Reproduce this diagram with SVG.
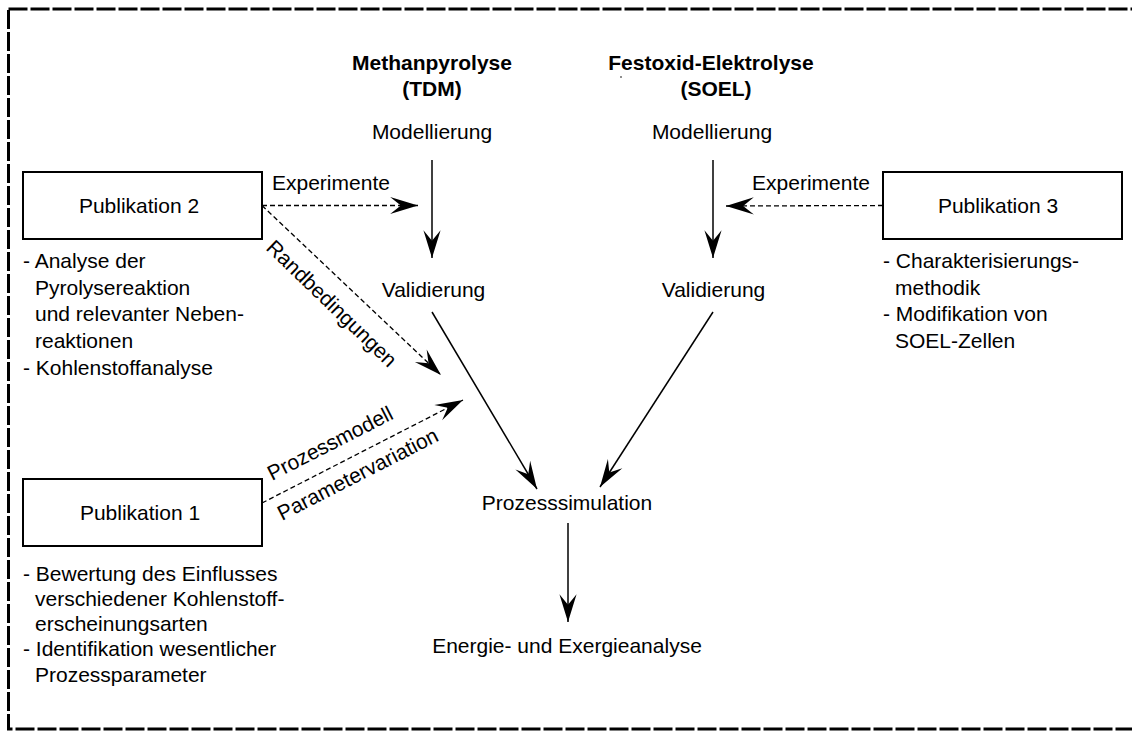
<svg xmlns="http://www.w3.org/2000/svg" width="1132" height="731" viewBox="0 0 1132 731">
<style>
text{font-family:"Liberation Sans",Arial,sans-serif;fill:#000}
.lbl{font-size:21px}
.bul{font-size:21px}
.hd{font-size:21px;font-weight:bold}
.box{fill:#fff;stroke:#000;stroke-width:2}
.solid{stroke:#000;stroke-width:1.5;fill:none}
.dash{stroke:#000;stroke-width:1.3;fill:none;stroke-dasharray:5 3}
</style>
<defs>
<marker id="ah" markerUnits="userSpaceOnUse" markerWidth="30" markerHeight="20" viewBox="-27 -9 28 18" refX="0" refY="0" orient="auto">
<path d="M0,0 L-26,-8 L-16,0 L-26,8 Z" fill="#000"/>
</marker>
</defs>
<rect x="8.5" y="9" width="1160" height="720" fill="none" stroke="#000" stroke-width="3" stroke-dasharray="19 3"/>
<circle cx="621" cy="77" r="0.8" fill="#000"/>

<g id="heading-tdm">
<text class="hd" x="432" y="70" text-anchor="middle">Methanpyrolyse</text>
<text class="hd" x="432" y="96" text-anchor="middle">(TDM)</text>
</g>
<g id="heading-soel">
<text class="hd" x="711" y="70" text-anchor="middle">Festoxid-Elektrolyse</text>
<text class="hd" x="716" y="96" text-anchor="middle">(SOEL)</text>
</g>
<g id="modell-tdm"><text class="lbl" x="432" y="139" text-anchor="middle">Modellierung</text></g>
<g id="modell-soel"><text class="lbl" x="712" y="139" text-anchor="middle">Modellierung</text></g>
<g id="valid-tdm"><text class="lbl" x="433.5" y="297" text-anchor="middle">Validierung</text></g>
<g id="valid-soel"><text class="lbl" x="713.5" y="297" text-anchor="middle">Validierung</text></g>
<g id="prozesssimulation"><text class="lbl" x="567" y="510" text-anchor="middle">Prozesssimulation</text></g>
<g id="energie"><text class="lbl" x="567" y="653" text-anchor="middle">Energie- und Exergieanalyse</text></g>

<g id="pub2">
<rect class="box" x="23" y="172" width="239" height="67"/>
<text class="lbl" x="139" y="213" text-anchor="middle">Publikation 2</text>
<text class="bul" x="23" y="268">- Analyse der</text>
<text class="bul" x="35" y="295">Pyrolysereaktion</text>
<text class="bul" x="35" y="321">und relevanter Neben-</text>
<text class="bul" x="35" y="348">reaktionen</text>
<text class="bul" x="23" y="375">- Kohlenstoffanalyse</text>
</g>
<g id="pub1">
<rect class="box" x="23" y="479" width="239" height="67"/>
<text class="lbl" x="140" y="520" text-anchor="middle">Publikation 1</text>
<text class="bul" x="23" y="581">- Bewertung des Einflusses</text>
<text class="bul" x="35" y="606">verschiedener Kohlenstoff-</text>
<text class="bul" x="35" y="631">erscheinungsarten</text>
<text class="bul" x="23" y="656">- Identifikation wesentlicher</text>
<text class="bul" x="35" y="682">Prozessparameter</text>
</g>
<g id="pub3">
<rect class="box" x="883" y="172" width="239" height="67"/>
<text class="lbl" x="998" y="213" text-anchor="middle">Publikation 3</text>
<text class="bul" x="883" y="268">- Charakterisierungs-</text>
<text class="bul" x="895" y="295">methodik</text>
<text class="bul" x="883" y="321">- Modifikation von</text>
<text class="bul" x="895" y="348">SOEL-Zellen</text>
</g>

<g id="connectors">
<line class="solid" x1="432" y1="160" x2="432" y2="258" marker-end="url(#ah)"/>
<line class="solid" x1="713" y1="160" x2="713" y2="258" marker-end="url(#ah)"/>
<line class="solid" x1="432" y1="312" x2="537" y2="489" marker-end="url(#ah)"/>
<line class="solid" x1="713" y1="312" x2="600" y2="487" marker-end="url(#ah)"/>
<line class="solid" x1="568" y1="523" x2="568" y2="622" marker-end="url(#ah)"/>
<line class="dash" x1="262" y1="205.5" x2="418" y2="205.5" marker-end="url(#ah)"/>
<line class="dash" x1="883" y1="205.5" x2="726" y2="206" marker-end="url(#ah)"/>
<line class="dash" x1="262" y1="205.5" x2="441" y2="375" stroke-dasharray="4 3" marker-end="url(#ah)"/>
<line class="dash" x1="262" y1="503" x2="463" y2="400" marker-end="url(#ah)"/>
<text class="lbl" x="272" y="190">Experimente</text>
<text class="lbl" x="811" y="190" text-anchor="middle">Experimente</text>
<text class="lbl" transform="translate(265,249) rotate(44)">Randbedingungen</text>
<text class="lbl" transform="translate(272,481) rotate(-27.1)">Prozessmodell</text>
<text class="lbl" transform="translate(282,521) rotate(-27.1)">Parametervariation</text>
</g>
</svg>
